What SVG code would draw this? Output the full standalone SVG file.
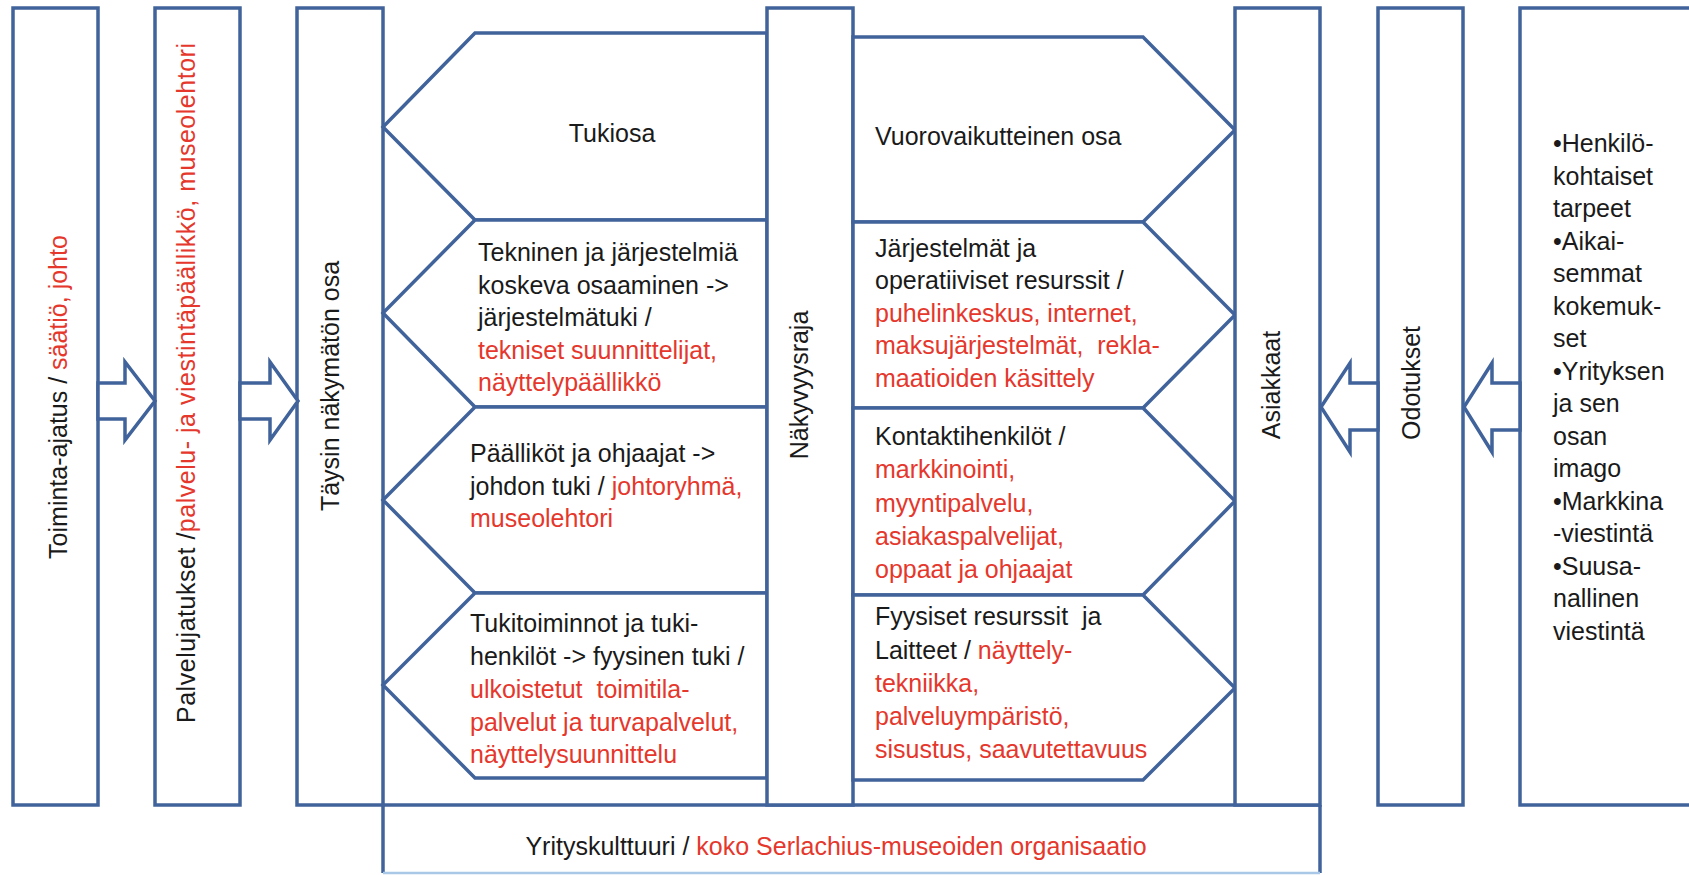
<svg xmlns="http://www.w3.org/2000/svg" width="1689" height="875" viewBox="0 0 1689 875">
<style>
.box{fill:#ffffff;stroke:#41639b;stroke-width:3.5;stroke-linejoin:miter}
.arr{fill:#ffffff;stroke:#41639b;stroke-width:3.5;stroke-linejoin:miter}
.t{font-family:'Liberation Sans',Arial,sans-serif;font-size:25px;fill:#1a1a1a;white-space:pre}
.r{fill:#e5372c}
.v{text-anchor:middle}
.c{text-anchor:middle}
</style>
<rect x="0" y="0" width="1689" height="875" fill="#ffffff"/>

<g id="toiminta-ajatus">
<rect class="box" x="13" y="8" width="85" height="797"/>
<text class="t v" transform="translate(67,397) rotate(-90)">Toiminta-ajatus / <tspan class="r">säätiö, johto</tspan></text>
</g>

<g id="palveluajatukset">
<rect class="box" x="155" y="8" width="85" height="797"/>
<text class="t v" transform="translate(195,383) rotate(-90)" textLength="680" lengthAdjust="spacing">Palvelujatukset /<tspan class="r">palvelu- ja viestintäpäällikkö, museolehtori</tspan></text>
</g>

<g id="taysin-nakymaton-osa">
<rect class="box" x="297" y="8" width="86" height="797"/>
<text class="t v" transform="translate(339,386) rotate(-90)">Täysin näkymätön osa</text>
</g>

<g id="yrityskulttuuri">
<line x1="383" y1="805" x2="383" y2="873" stroke="#41639b" stroke-width="3.5"/>
<line x1="1320" y1="805" x2="1320" y2="873" stroke="#41639b" stroke-width="3.5"/>
<line x1="383" y1="805" x2="1320" y2="805" stroke="#41639b" stroke-width="3.5"/>
<line x1="383" y1="873" x2="1320" y2="873" stroke="#a9c8e8" stroke-width="2.5"/>
<text class="t c" x="836" y="855">Yrityskulttuuri / <tspan class="r">koko Serlachius-museoiden organisaatio</tspan></text>
</g>

<g id="tukiosa">
<polygon class="box" points="475,33 767,33 767,220 475,220 383,127"/>
<text class="t c" x="612" y="142">Tukiosa</text>
</g>

<g id="jarjestelmatuki">
<polygon class="box" points="475,220 767,220 767,407 475,407 383,313"/>
<text class="t" x="478" y="261">Tekninen ja järjestelmiä</text>
<text class="t" x="478" y="293.5">koskeva osaaminen -&gt;</text>
<text class="t" x="478" y="326">järjestelmätuki /</text>
<text class="t r" x="478" y="358.5">tekniset suunnittelijat,</text>
<text class="t r" x="478" y="391">näyttelypäällikkö</text>
</g>

<g id="johdon-tuki">
<polygon class="box" points="475,407 767,407 767,593 475,593 383,500"/>
<text class="t" x="470" y="462">Päälliköt ja ohjaajat -&gt;</text>
<text class="t" x="470" y="495">johdon tuki / <tspan class="r">johtoryhmä,</tspan></text>
<text class="t r" x="470" y="527">museolehtori</text>
</g>

<g id="fyysinen-tuki">
<polygon class="box" points="475,593 767,593 767,778 475,778 383,685"/>
<text class="t" x="470" y="632">Tukitoiminnot ja tuki-</text>
<text class="t" x="470" y="665">henkilöt -&gt; fyysinen tuki /</text>
<text class="t r" x="470" y="698">ulkoistetut  toimitila-</text>
<text class="t r" x="470" y="731">palvelut ja turvapalvelut,</text>
<text class="t r" x="470" y="763">näyttelysuunnittelu</text>
</g>

<g id="nakyvyysraja">
<rect class="box" x="767" y="8" width="86" height="797"/>
<text class="t v" transform="translate(808,385) rotate(-90)">Näkyvyysraja</text>
</g>

<g id="vuorovaikutteinen-osa">
<polygon class="box" points="853,37 1143,37 1235,130 1143,222 853,222"/>
<text class="t" x="875" y="145">Vuorovaikutteinen osa</text>
</g>

<g id="jarjestelmat">
<polygon class="box" points="853,222 1143,222 1235,315 1143,408 853,408"/>
<text class="t" x="875" y="257">Järjestelmät ja</text>
<text class="t" x="875" y="289">operatiiviset resurssit /</text>
<text class="t r" x="875" y="322">puhelinkeskus, internet,</text>
<text class="t r" x="875" y="354">maksujärjestelmät,  rekla-</text>
<text class="t r" x="875" y="387">maatioiden käsittely</text>
</g>

<g id="kontaktihenkilot">
<polygon class="box" points="853,408 1143,408 1235,501 1143,595 853,595"/>
<text class="t" x="875" y="445">Kontaktihenkilöt /</text>
<text class="t r" x="875" y="478">markkinointi,</text>
<text class="t r" x="875" y="512">myyntipalvelu,</text>
<text class="t r" x="875" y="545">asiakaspalvelijat,</text>
<text class="t r" x="875" y="578">oppaat ja ohjaajat</text>
</g>

<g id="fyysiset-resurssit">
<polygon class="box" points="853,595 1143,595 1235,688 1143,780 853,780"/>
<text class="t" x="875" y="625">Fyysiset resurssit  ja</text>
<text class="t" x="875" y="659">Laitteet / <tspan class="r">näyttely-</tspan></text>
<text class="t r" x="875" y="692">tekniikka,</text>
<text class="t r" x="875" y="725">palveluympäristö,</text>
<text class="t r" x="875" y="758">sisustus, saavutettavuus</text>
</g>

<g id="asiakkaat">
<rect class="box" x="1235" y="8" width="85" height="797"/>
<text class="t v" transform="translate(1280,385) rotate(-90)">Asiakkaat</text>
</g>

<g id="odotukset">
<rect class="box" x="1378" y="8" width="85" height="797"/>
<text class="t v" transform="translate(1420,383) rotate(-90)">Odotukset</text>
</g>

<g id="odotusten-lahteet">
<rect class="box" x="1520" y="8" width="200" height="797"/>
<text class="t" x="1553" y="152">•Henkilö-</text>
<text class="t" x="1553" y="184.5">kohtaiset</text>
<text class="t" x="1553" y="217">tarpeet</text>
<text class="t" x="1553" y="249.5">•Aikai-</text>
<text class="t" x="1553" y="282">semmat</text>
<text class="t" x="1553" y="314.5">kokemuk-</text>
<text class="t" x="1553" y="347">set</text>
<text class="t" x="1553" y="379.5">•Yrityksen</text>
<text class="t" x="1553" y="412">ja sen</text>
<text class="t" x="1553" y="444.5">osan</text>
<text class="t" x="1553" y="477">imago</text>
<text class="t" x="1553" y="509.5">•Markkina</text>
<text class="t" x="1553" y="542">-viestintä</text>
<text class="t" x="1553" y="574.5">•Suusa-</text>
<text class="t" x="1553" y="607">nallinen</text>
<text class="t" x="1553" y="639.5">viestintä</text>
</g>

<g id="connectors">
<polygon class="arr" points="98,383 125,383 125,362 155,401 125,440 125,419 98,419"/>
<polygon class="arr" points="240,383 270,383 270,362 298,401 270,440 270,419 240,419"/>
<polygon class="arr" points="1378,383 1350,383 1350,363 1321,407 1350,452 1350,430 1378,430"/>
<polygon class="arr" points="1520,383 1492,383 1492,363 1464,407 1492,452 1492,430 1520,430"/>
</g>
</svg>
